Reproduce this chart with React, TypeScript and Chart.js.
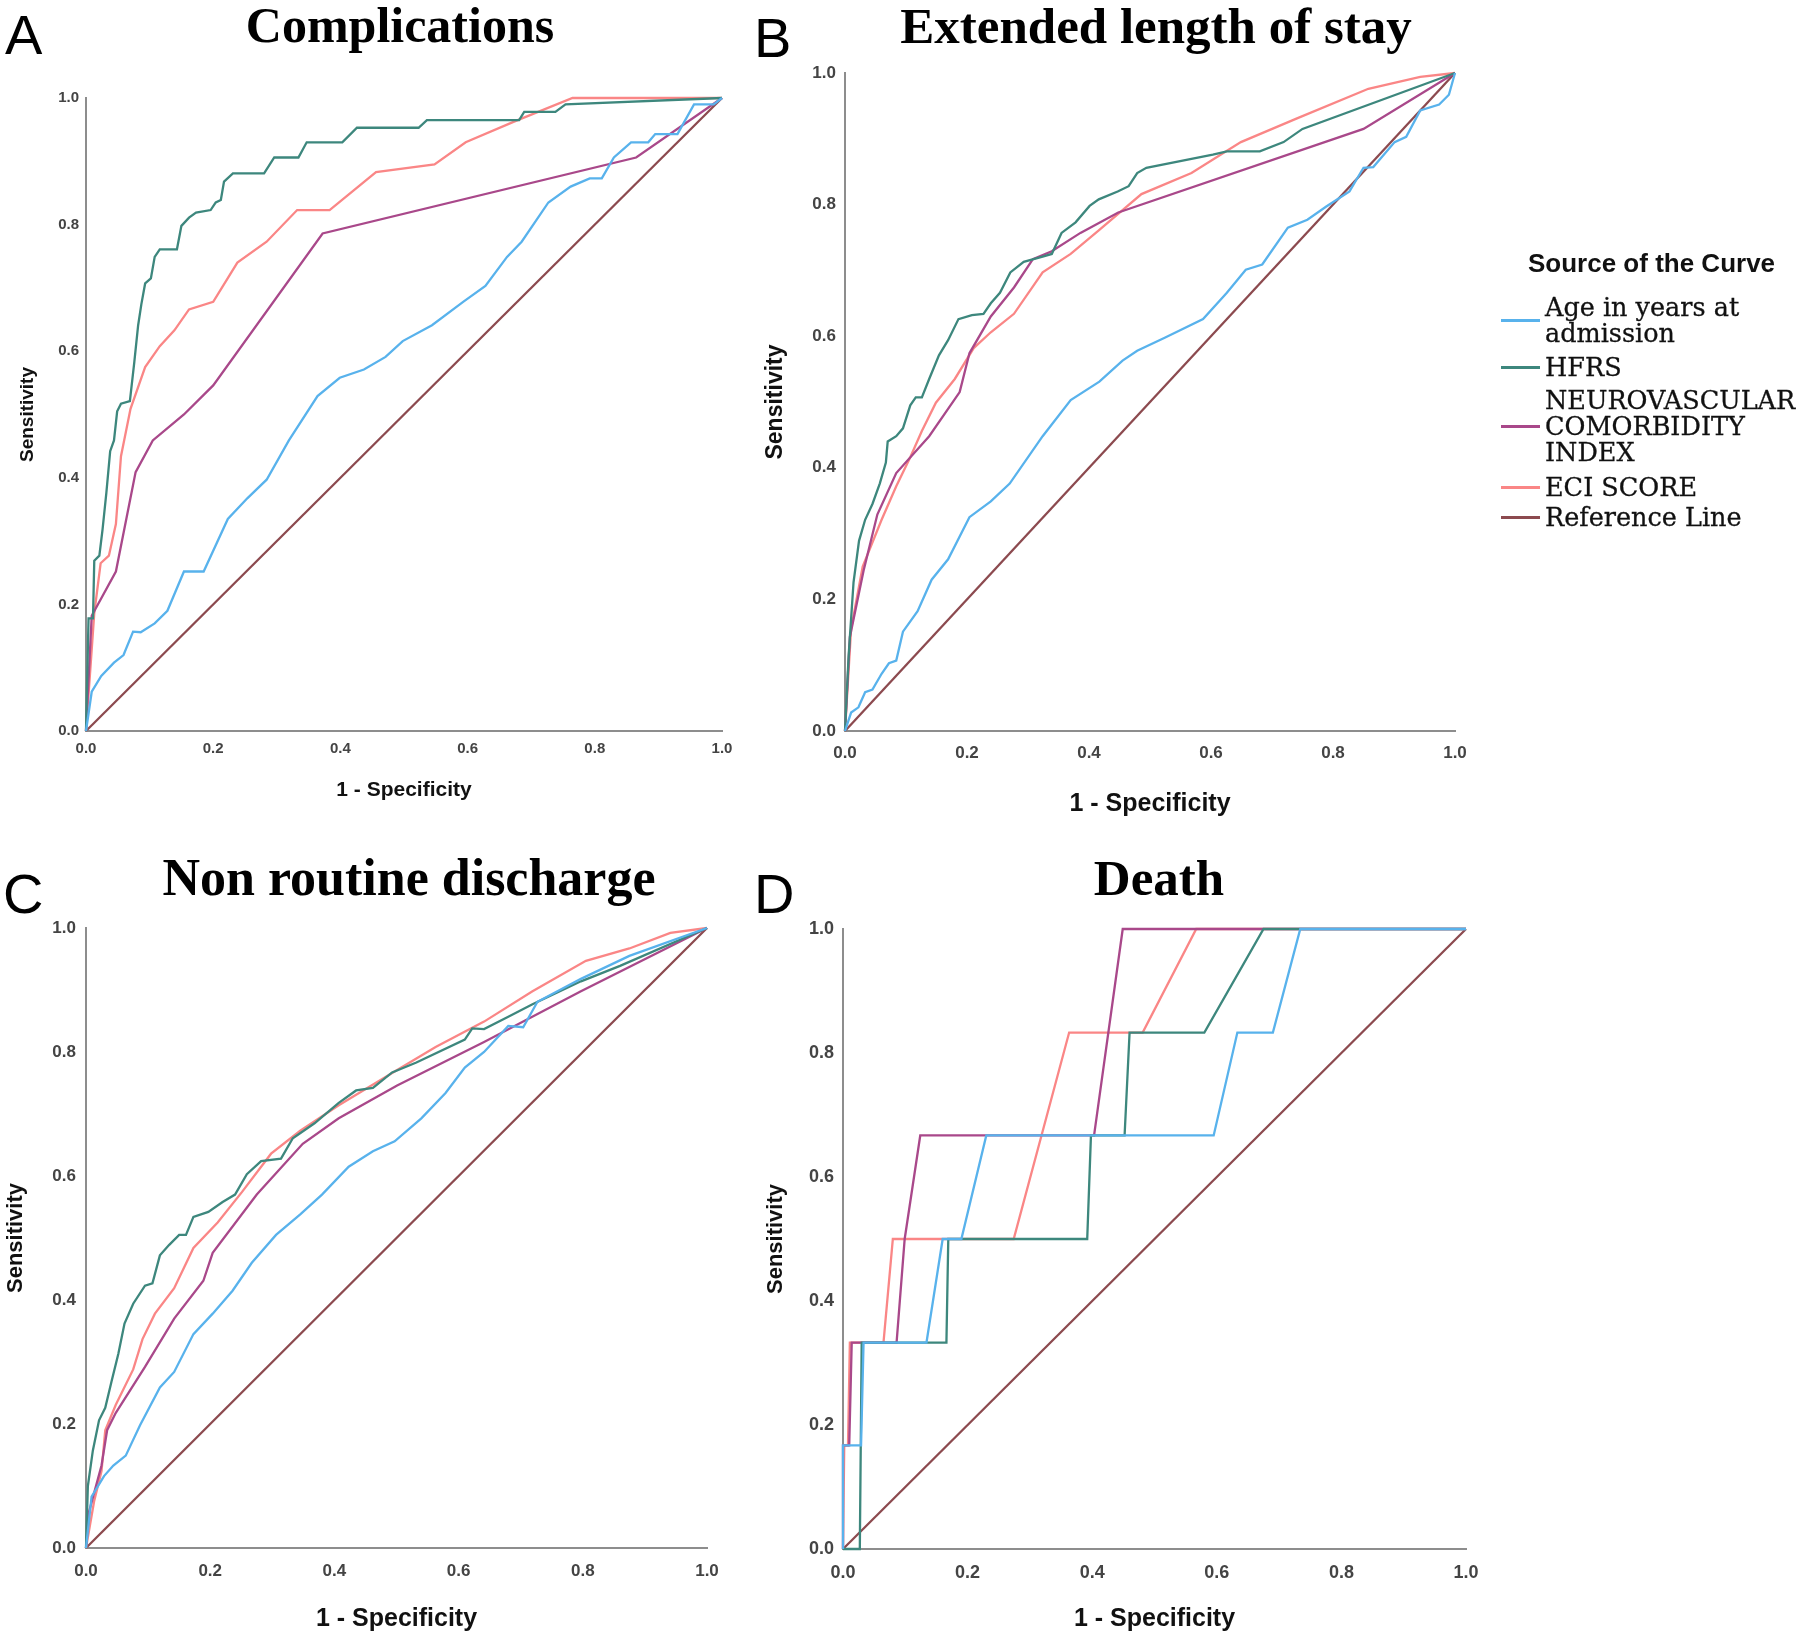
import React, { useEffect, useRef } from "react";
import { Chart, registerables } from "chart.js";

Chart.register(...registerables);

// ---------------- Data (1 - specificity / sensitivity) ----------------
// Panel A: Complications
const compAgeFpr = [0, 0.009, 0.024, 0.044, 0.059, 0.074, 0.086, 0.108, 0.128, 0.154, 0.185, 0.223, 0.254, 0.284, 0.319, 0.364, 0.399, 0.437, 0.471, 0.498, 0.544, 0.593, 0.628, 0.662, 0.685, 0.727, 0.762, 0.792, 0.811, 0.83, 0.857, 0.884, 0.895, 0.93, 0.956, 0.987, 1];
const compAgeTpr = [0, 0.062, 0.087, 0.108, 0.12, 0.157, 0.156, 0.17, 0.19, 0.252, 0.252, 0.335, 0.368, 0.397, 0.459, 0.529, 0.558, 0.571, 0.591, 0.616, 0.641, 0.678, 0.703, 0.749, 0.773, 0.835, 0.86, 0.873, 0.873, 0.906, 0.93, 0.93, 0.943, 0.943, 0.99, 0.99, 1];
const compHfrsFpr = [0, 0.004, 0.011, 0.013, 0.021, 0.026, 0.032, 0.038, 0.044, 0.049, 0.055, 0.069, 0.076, 0.082, 0.087, 0.093, 0.102, 0.108, 0.116, 0.143, 0.15, 0.162, 0.173, 0.196, 0.204, 0.212, 0.217, 0.231, 0.28, 0.296, 0.334, 0.347, 0.403, 0.426, 0.523, 0.536, 0.681, 0.689, 0.738, 0.754, 1];
const compHfrsTpr = [0, 0.178, 0.178, 0.269, 0.277, 0.318, 0.376, 0.442, 0.459, 0.505, 0.517, 0.521, 0.583, 0.641, 0.674, 0.707, 0.715, 0.749, 0.761, 0.761, 0.798, 0.811, 0.819, 0.823, 0.835, 0.839, 0.868, 0.881, 0.881, 0.906, 0.906, 0.93, 0.93, 0.953, 0.953, 0.965, 0.965, 0.978, 0.978, 0.99, 1];
const compNeuroFpr = [0, 0.009, 0.047, 0.078, 0.105, 0.154, 0.2, 0.372, 0.865, 1];
const compNeuroTpr = [0, 0.182, 0.252, 0.409, 0.459, 0.5, 0.546, 0.786, 0.906, 1];
const compEciFpr = [0, 0.013, 0.023, 0.036, 0.047, 0.055, 0.07, 0.093, 0.116, 0.139, 0.162, 0.2, 0.238, 0.284, 0.332, 0.383, 0.456, 0.548, 0.597, 0.674, 0.765, 1];
const compEciTpr = [0, 0.186, 0.265, 0.277, 0.327, 0.434, 0.509, 0.575, 0.608, 0.633, 0.666, 0.678, 0.74, 0.773, 0.823, 0.823, 0.883, 0.895, 0.93, 0.963, 1, 1];

// Panel B: Extended length of stay
const losAgeFpr = [0, 0.01, 0.022, 0.033, 0.045, 0.06, 0.072, 0.084, 0.095, 0.119, 0.142, 0.169, 0.204, 0.239, 0.27, 0.324, 0.37, 0.417, 0.455, 0.479, 0.525, 0.587, 0.626, 0.657, 0.684, 0.726, 0.758, 0.789, 0.827, 0.85, 0.866, 0.901, 0.92, 0.943, 0.974, 0.99, 1];
const losAgeTpr = [0, 0.028, 0.036, 0.059, 0.063, 0.087, 0.103, 0.107, 0.151, 0.182, 0.23, 0.261, 0.325, 0.349, 0.376, 0.448, 0.503, 0.531, 0.563, 0.578, 0.598, 0.626, 0.666, 0.701, 0.709, 0.765, 0.777, 0.797, 0.82, 0.856, 0.857, 0.895, 0.903, 0.943, 0.952, 0.967, 1];
const losHfrsFpr = [0, 0.006, 0.014, 0.023, 0.033, 0.045, 0.057, 0.067, 0.07, 0.084, 0.095, 0.107, 0.116, 0.126, 0.138, 0.154, 0.169, 0.186, 0.208, 0.227, 0.239, 0.254, 0.271, 0.293, 0.324, 0.339, 0.355, 0.378, 0.401, 0.416, 0.447, 0.465, 0.479, 0.494, 0.603, 0.626, 0.68, 0.719, 0.75, 1];
const losHfrsTpr = [0, 0.115, 0.226, 0.289, 0.321, 0.345, 0.376, 0.408, 0.44, 0.448, 0.46, 0.495, 0.507, 0.507, 0.535, 0.571, 0.594, 0.626, 0.632, 0.634, 0.65, 0.666, 0.697, 0.713, 0.721, 0.725, 0.757, 0.773, 0.798, 0.808, 0.82, 0.828, 0.848, 0.856, 0.876, 0.881, 0.881, 0.895, 0.915, 1];
const losNeuroFpr = [0, 0.008, 0.031, 0.053, 0.084, 0.138, 0.188, 0.204, 0.239, 0.277, 0.308, 0.339, 0.386, 0.448, 0.85, 1];
const losNeuroTpr = [0, 0.143, 0.246, 0.329, 0.392, 0.448, 0.515, 0.574, 0.63, 0.674, 0.717, 0.729, 0.757, 0.788, 0.915, 1];
const losEciFpr = [0, 0.01, 0.029, 0.06, 0.084, 0.107, 0.126, 0.149, 0.18, 0.211, 0.239, 0.277, 0.324, 0.37, 0.416, 0.486, 0.568, 0.649, 0.741, 0.858, 0.943, 1];
const losEciTpr = [0, 0.155, 0.25, 0.321, 0.372, 0.416, 0.456, 0.499, 0.535, 0.582, 0.606, 0.634, 0.697, 0.725, 0.761, 0.816, 0.848, 0.895, 0.931, 0.976, 0.994, 1];

// Panel C: Non routine discharge
const nrdAgeFpr = [0, 0.009, 0.029, 0.044, 0.064, 0.087, 0.119, 0.142, 0.173, 0.204, 0.236, 0.267, 0.306, 0.345, 0.38, 0.423, 0.462, 0.497, 0.54, 0.579, 0.61, 0.641, 0.68, 0.704, 0.727, 0.797, 0.875, 1];
const nrdAgeTpr = [0, 0.083, 0.116, 0.133, 0.149, 0.198, 0.259, 0.284, 0.345, 0.378, 0.415, 0.46, 0.505, 0.538, 0.57, 0.615, 0.64, 0.656, 0.693, 0.734, 0.775, 0.8, 0.842, 0.84, 0.881, 0.918, 0.955, 1];
const nrdHfrsFpr = [0, 0.003, 0.011, 0.021, 0.031, 0.041, 0.052, 0.062, 0.076, 0.095, 0.107, 0.119, 0.134, 0.15, 0.161, 0.173, 0.197, 0.22, 0.24, 0.259, 0.282, 0.314, 0.333, 0.368, 0.407, 0.435, 0.462, 0.493, 0.532, 0.61, 0.622, 0.641, 0.68, 0.719, 0.797, 0.86, 1];
const nrdHfrsTpr = [0, 0.1, 0.157, 0.206, 0.226, 0.268, 0.313, 0.362, 0.394, 0.423, 0.427, 0.472, 0.489, 0.505, 0.505, 0.534, 0.542, 0.558, 0.57, 0.603, 0.624, 0.628, 0.661, 0.685, 0.718, 0.738, 0.742, 0.767, 0.783, 0.82, 0.838, 0.837, 0.857, 0.877, 0.914, 0.939, 1];
const nrdNeuroFpr = [0, 0.005, 0.025, 0.034, 0.048, 0.095, 0.142, 0.189, 0.204, 0.275, 0.349, 0.407, 0.501, 0.641, 0.797, 1];
const nrdNeuroTpr = [0, 0.059, 0.133, 0.19, 0.218, 0.292, 0.37, 0.431, 0.476, 0.57, 0.652, 0.693, 0.746, 0.816, 0.898, 1];
const nrdEciFpr = [0, 0.013, 0.025, 0.031, 0.048, 0.076, 0.091, 0.111, 0.142, 0.173, 0.212, 0.251, 0.298, 0.345, 0.407, 0.501, 0.563, 0.641, 0.719, 0.805, 0.875, 0.941, 1];
const nrdEciTpr = [0, 0.075, 0.124, 0.19, 0.231, 0.288, 0.337, 0.378, 0.419, 0.484, 0.525, 0.574, 0.636, 0.673, 0.714, 0.771, 0.808, 0.849, 0.898, 0.947, 0.967, 0.992, 1];

// Panel D: Death
const deathAgeFpr = [0, 0, 0.029, 0.033, 0.134, 0.16, 0.19, 0.23, 0.595, 0.633, 0.69, 0.734, 1];
const deathAgeTpr = [0, 0.167, 0.167, 0.333, 0.333, 0.5, 0.5, 0.667, 0.667, 0.833, 0.833, 1, 1];
const deathHfrsFpr = [0, 0.027, 0.03, 0.166, 0.169, 0.392, 0.398, 0.452, 0.46, 0.58, 0.675, 1];
const deathHfrsTpr = [0, 0, 0.333, 0.333, 0.5, 0.5, 0.667, 0.667, 0.833, 0.833, 1, 1];
const deathNeuroFpr = [0, 0, 0.01, 0.014, 0.086, 0.099, 0.124, 0.403, 0.449, 1];
const deathNeuroTpr = [0, 0.167, 0.167, 0.333, 0.333, 0.5, 0.667, 0.667, 1, 1];
const deathEciFpr = [0, 0.002, 0.008, 0.011, 0.065, 0.08, 0.274, 0.363, 0.481, 0.567, 1];
const deathEciTpr = [0, 0.167, 0.167, 0.333, 0.333, 0.5, 0.5, 0.833, 0.833, 1, 1];

const refFpr = [0, 1];
const refTpr = [0, 1];

const tickValues = [0, 0.2, 0.4, 0.6, 0.8, 1.0];

const seriesNames = ["Age in years at admission", "HFRS", "NEUROVASCULAR COMORBIDITY INDEX", "ECI SCORE", "Reference Line"];
const seriesColors = ["#58b2ec", "#3d877d", "#a9488a", "#fa8686", "#8c4a4f"];

// ---------------- Layout ----------------
type PanelSpec = {
  letter: string;
  title: string;
  series: [number[], number[]][];
  left: number; top: number; w: number; h: number;
  padTop: number; padRight: number;
  yW: number; xH: number;
  tickSize: number; tickPad: number; xTickPad: number;
  yTitleSize: number; yTitlePad: number;
  xTitleSize: number; xTitlePad: number;
};

const panels: PanelSpec[] = [
  {
    letter: "A", title: "Complications",
    series: [[compAgeFpr, compAgeTpr], [compHfrsFpr, compHfrsTpr], [compNeuroFpr, compNeuroTpr], [compEciFpr, compEciTpr], [refFpr, refTpr]],
    left: 0, top: 0, w: 770, h: 840, padTop: 98, padRight: 48, yW: 86, xH: 109,
    tickSize: 15, tickPad: 7, xTickPad: 9, yTitleSize: 19, yTitlePad: 16.6, xTitleSize: 21, xTitlePad: 37.4,
  },
  {
    letter: "B", title: "Extended length of stay",
    series: [[losAgeFpr, losAgeTpr], [losHfrsFpr, losHfrsTpr], [losNeuroFpr, losNeuroTpr], [losEciFpr, losEciTpr], [refFpr, refTpr]],
    left: 745, top: 0, w: 790, h: 840, padTop: 73, padRight: 80, yW: 100, xH: 109,
    tickSize: 17, tickPad: 9, xTickPad: 12, yTitleSize: 23, yTitlePad: 17.2, xTitleSize: 25, xTitlePad: 21,
  },
  {
    letter: "C", title: "Non routine discharge",
    series: [[nrdAgeFpr, nrdAgeTpr], [nrdHfrsFpr, nrdHfrsTpr], [nrdNeuroFpr, nrdNeuroTpr], [nrdEciFpr, nrdEciTpr], [refFpr, refTpr]],
    left: 0, top: 840, w: 760, h: 797, padTop: 88, padRight: 53, yW: 86, xH: 89,
    tickSize: 17, tickPad: 10, xTickPad: 13, yTitleSize: 22, yTitlePad: 2.8, xTitleSize: 25, xTitlePad: 3,
  },
  {
    letter: "D", title: "Death",
    series: [[deathAgeFpr, deathAgeTpr], [deathHfrsFpr, deathHfrsTpr], [deathNeuroFpr, deathNeuroTpr], [deathEciFpr, deathEciTpr], [refFpr, refTpr]],
    left: 745, top: 840, w: 790, h: 797, padTop: 89, padRight: 69, yW: 98, xH: 88,
    tickSize: 18, tickPad: 9, xTickPad: 13, yTitleSize: 22, yTitlePad: 17.8, xTitleSize: 25, xTitlePad: 3,
  },
];

const titleLayout = [
  { letterLeft: 5, letterTop: 7, titleCenter: 400, titleTop: 0, titleSize: 50 },
  { letterLeft: 754, letterTop: 10, titleCenter: 1156, titleTop: 1, titleSize: 51 },
  { letterLeft: 3, letterTop: 866, titleCenter: 409, titleTop: 853, titleSize: 52 },
  { letterLeft: 754, letterTop: 866, titleCenter: 1159, titleTop: 853, titleSize: 51 },
];

const legendRows = [
  { lines: ["Age in years at", "admission"], top: 294 },
  { lines: ["HFRS"], top: 354 },
  { lines: ["NEUROVASCULAR", "COMORBIDITY", "INDEX"], top: 387 },
  { lines: ["ECI SCORE"], top: 474 },
  { lines: ["Reference Line"], top: 504 },
];

const SANS = "'Liberation Sans', Arial, sans-serif";
const AXIS_GRAY = "#8d8d8d";
const TICK_COLOR = "#444444";

function buildConfig(p: PanelSpec): any {
  const tickCb = (v: any) => Number(v).toFixed(1);
  return {
    type: "line",
    data: {
      datasets: p.series.map(([xs, ys], i) => ({
        label: seriesNames[i],
        data: xs.map((x, j) => ({ x, y: ys[j] })),
        borderColor: seriesColors[i],
        backgroundColor: seriesColors[i],
        borderWidth: 2.3,
        pointRadius: 0,
        tension: 0,
        fill: false,
        clip: 4,
      })),
    },
    options: {
      animation: false,
      responsive: false,
      devicePixelRatio: 1,
      events: [],
      layout: { padding: { left: 0, top: p.padTop, right: p.padRight, bottom: 0 } },
      plugins: { legend: { display: false }, tooltip: { enabled: false }, title: { display: false } },
      scales: {
        x: {
          type: "linear", min: 0, max: 1, position: "bottom",
          afterBuildTicks: (s: any) => { s.ticks = tickValues.map((v) => ({ value: v })); },
          grid: { display: false, drawTicks: false },
          border: { display: true, color: AXIS_GRAY, width: 2 },
          ticks: { autoSkip: false, maxRotation: 0, padding: p.xTickPad, color: TICK_COLOR, font: { family: SANS, size: p.tickSize, weight: "bold" }, callback: tickCb },
          title: { display: true, text: "1 - Specificity", color: "#111", font: { family: SANS, size: p.xTitleSize, weight: "bold", lineHeight: 1.2 }, padding: { top: 0, bottom: p.xTitlePad } },
          afterFit: (s: any) => { s.height = p.xH; },
        },
        y: {
          type: "linear", min: 0, max: 1, position: "left",
          afterBuildTicks: (s: any) => { s.ticks = tickValues.map((v) => ({ value: v })); },
          grid: { display: false, drawTicks: false },
          border: { display: true, color: AXIS_GRAY, width: 2 },
          ticks: { autoSkip: false, padding: p.tickPad, color: TICK_COLOR, font: { family: SANS, size: p.tickSize, weight: "bold" }, callback: tickCb },
          title: { display: true, text: "Sensitivity", color: "#111", font: { family: SANS, size: p.yTitleSize, weight: "bold", lineHeight: 1.2 }, padding: { top: p.yTitlePad, bottom: 0 } },
          afterFit: (s: any) => { s.width = p.yW; },
        },
      },
    },
  };
}

function RocPanel({ spec }: { spec: PanelSpec }) {
  const ref = useRef<HTMLCanvasElement | null>(null);
  useEffect(() => {
    if (!ref.current) return;
    const chart = new Chart(ref.current, buildConfig(spec));
    return () => chart.destroy();
  }, [spec]);
  return (
    <canvas
      ref={ref}
      width={spec.w}
      height={spec.h}
      style={{ position: "absolute", left: spec.left, top: spec.top, width: spec.w, height: spec.h }}
    />
  );
}

export default function App() {
  return (
    <div style={{ position: "absolute", left: 0, top: 0, width: 1800, height: 1637, background: "#fff", overflow: "hidden" }}>
      {panels.map((p) => (
        <RocPanel key={p.letter} spec={p} />
      ))}
      {panels.map((p, i) => (
        <React.Fragment key={"t" + p.letter}>
          <div style={{ position: "absolute", left: titleLayout[i].letterLeft, top: titleLayout[i].letterTop, fontFamily: SANS, fontSize: 56, lineHeight: "56px", color: "#000" }}>
            {p.letter}
          </div>
          <div style={{ position: "absolute", left: titleLayout[i].titleCenter - 400, width: 800, top: titleLayout[i].titleTop, textAlign: "center", fontFamily: "'Liberation Serif', 'Times New Roman', serif", fontWeight: "bold", fontSize: titleLayout[i].titleSize, lineHeight: "50px", color: "#000", whiteSpace: "nowrap" }}>
            {p.title}
          </div>
        </React.Fragment>
      ))}
      <div style={{ position: "absolute", left: 1528, top: 250, fontFamily: SANS, fontWeight: "bold", fontSize: 26, lineHeight: "26px", color: "#111", whiteSpace: "nowrap" }}>
        Source of the Curve
      </div>
      {legendRows.map((r, i) => (
        <div key={"l" + i} style={{ position: "absolute", left: 1501, top: r.top, display: "flex", alignItems: "center" }}>
          <div style={{ width: 39, height: 3, background: seriesColors[i], marginRight: 5 }} />
          <div style={{ fontFamily: "'DejaVu Serif', serif", fontSize: 25.5, lineHeight: "26px", color: "#111", whiteSpace: "nowrap", WebkitTextStroke: "0.3px #111" }}>
            {r.lines.map((t, k) => (
              <div key={k}>{t}</div>
            ))}
          </div>
        </div>
      ))}
    </div>
  );
}
